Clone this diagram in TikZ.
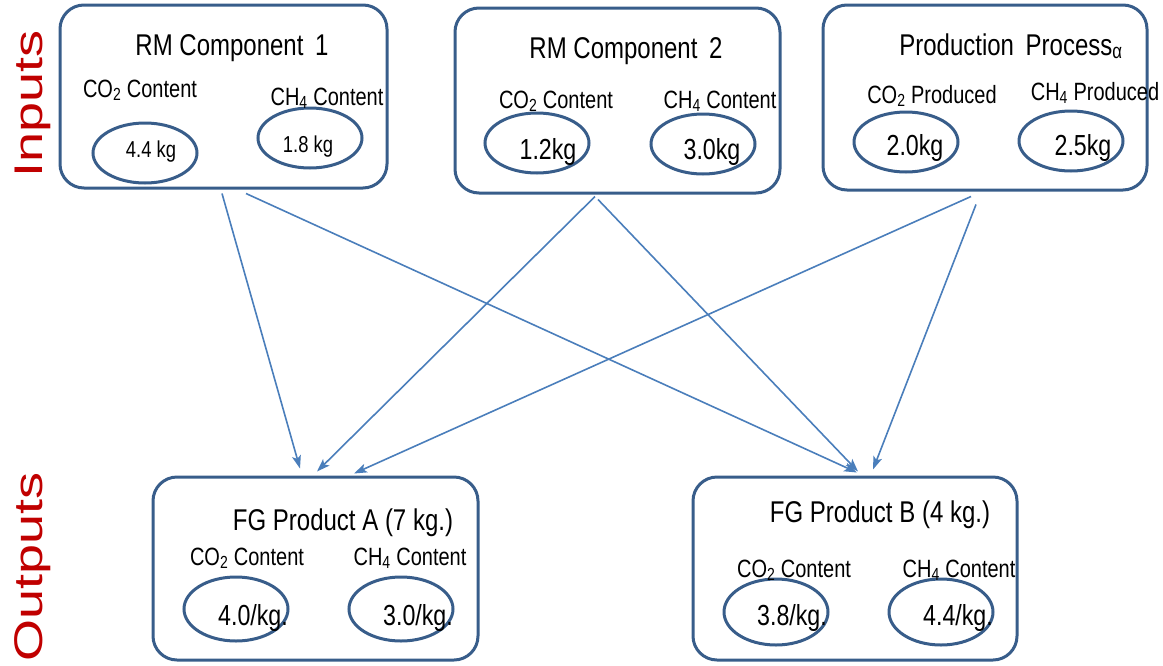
\documentclass[tikz,border=0pt]{standalone}
\usepackage{fontspec}
\setmainfont{Liberation Sans}[FakeStretch=0.8]
\newfontfamily\sidefont{Liberation Sans}[FakeStretch=1.35]
\usetikzlibrary{arrows.meta,shapes.geometric}
\definecolor{boxc}{RGB}{56,93,138}
\definecolor{arrc}{RGB}{74,126,187}
\definecolor{sidec}{RGB}{192,0,0}
\begin{document}
\begin{tikzpicture}[x=1pt,y=-1pt,
  panel/.style={draw=boxc, line width=3pt, rounded corners=24pt, inner sep=0pt, minimum width=#1},
  valring/.style={draw=boxc, line width=3pt, ellipse, inner sep=0pt, minimum width=104pt, minimum height=60pt},
  ttl/.style={inner sep=0pt, anchor=base, font=\fontsize{30}{30}\selectfont},
  lbl/.style={inner sep=0pt, anchor=base, font=\fontsize{25}{25}\selectfont},
  num/.style={inner sep=0pt, anchor=base, font=\fontsize{29}{29}\selectfont},
  smallnum/.style={inner sep=0pt, anchor=base, font=\fontsize{23}{23}\selectfont},
  side/.style={inner sep=0pt, rotate=90, anchor=base east, text=sidec, font=\sidefont\fontsize{40}{40}\selectfont},
  flow/.style={draw=arrc, line width=1.6pt, -{Stealth[length=13pt,width=9pt,inset=3pt]}}
]
\useasboundingbox (0,0) rectangle (1163,665);

% side labels
\node[side] (inputs) at (42,30) {Inputs};
\node[side] (outputs) at (42,472) {Outputs};

% panels
\node[panel=327pt, minimum height=183pt] (rm1) at (223.5,96.5) {};
\node[panel=325pt, minimum height=185pt] (rm2) at (617.5,100.5) {};
\node[panel=324pt, minimum height=185pt] (pp) at (985,97.5) {};
\node[panel=325pt, minimum height=183pt] (fa) at (315.5,568.5) {};
\node[panel=324pt, minimum height=183pt] (fb) at (855,568.5) {};

% ellipses
\node[valring] (e11) at (145,153) {};
\node[valring] (e12) at (310,138) {};
\node[valring] (e21) at (537,143) {};
\node[valring] (e22) at (703,144) {};
\node[valring] (e31) at (906,142) {};
\node[valring] (e32) at (1071,141) {};
\node[valring, minimum height=64pt] (ea1) at (236,609) {};
\node[valring, minimum height=64pt] (ea2) at (401,609) {};
\node[valring, minimum height=66pt] (eb1) at (776,612) {};
\node[valring, minimum height=66pt] (eb2) at (941,612) {};

% RM component 1
\node[ttl] (t1) at (232,55) {RM Component\, 1};
\node[lbl] (l11) at (140,97) {CO\textsubscript{2} Content};
\node[lbl] (l12) at (327,105) {CH\textsubscript{4} Content};
\node[smallnum] (v11) at (151,157) {4.4 kg};
\node[smallnum] (v12) at (308,152) {1.8 kg};

% RM component 2
\node[ttl] (t2) at (626,58) {RM Component\, 2};
\node[lbl] (l21) at (556,108) {CO\textsubscript{2} Content};
\node[lbl] (l22) at (720,108) {CH\textsubscript{4} Content};
\node[num] (v21) at (548,159) {1.2kg};
\node[num] (v22) at (712,159) {3.0kg};

% production process
\node[ttl] (t3) at (1011,55) {Production\, Process\textsubscript{α}};
\node[lbl] (l31) at (932,103) {CO\textsubscript{2} Produced};
\node[lbl] (l32) at (1095,100) {CH\textsubscript{4} Produced};
\node[num] (v31) at (915,155) {2.0kg};
\node[num] (v32) at (1083,155) {2.5kg};

% FG product A
\node[ttl] (ta) at (343,530) {FG Product A (7 kg.)};
\node[lbl] (la1) at (247,565) {CO\textsubscript{2} Content};
\node[lbl] (la2) at (410,565) {CH\textsubscript{4} Content};
\node[num] (va1) at (253,625) {4.0/kg.};
\node[num] (va2) at (418,625) {3.0/kg.};

% FG product B
\node[ttl] (tb) at (880,522) {FG Product B (4 kg.)};
\node[lbl] (lb1) at (794,577) {CO\textsubscript{2} Content};
\node[lbl] (lb2) at (959,577) {CH\textsubscript{4} Content};
\node[num] (vb1) at (792,625) {3.8/kg.};
\node[num] (vb2) at (958,625) {4.4/kg.};

% connectors
\draw[flow] ([xshift=-1.5pt,yshift=-4pt]rm1.south) -- ([xshift=-15.5pt,yshift=7pt]fa.north);
\draw[flow] ([xshift=22.5pt,yshift=-4pt]rm1.south) -- ([xshift=2pt,yshift=3pt]fb.north);
\draw[flow] ([xshift=-22.5pt,yshift=-2pt]rm2.south) -- ([xshift=1.5pt,yshift=4pt]fa.north);
\draw[flow] ([xshift=-19.5pt,yshift=-5pt]rm2.south) -- ([xshift=3pt,yshift=4pt]fb.north);
\draw[flow] ([xshift=-14pt,yshift=-5pt]pp.south) -- ([xshift=38.5pt,yshift=2pt]fa.north);
\draw[flow] ([xshift=-9pt,yshift=-13pt]pp.south) -- ([xshift=18pt,yshift=6pt]fb.north);
\end{tikzpicture}
\end{document}
